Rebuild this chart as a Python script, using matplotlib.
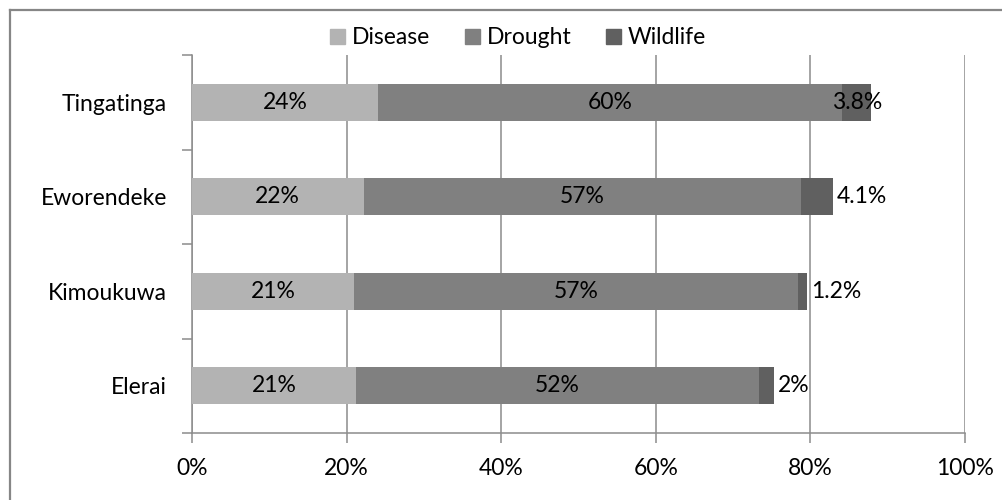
#!/usr/bin/env python3
"""Stacked horizontal bars: cause of livestock loss by village."""

import matplotlib
matplotlib.use('Agg')
import matplotlib.pyplot as plt
from matplotlib.lines import Line2D
import matplotlib.patches as mpatches

villages = ['Elerai', 'Kimoukuwa', 'Eworendeke', 'Tingatinga']
disease = [21.2, 21.0, 22.2, 24.1]
drought = [52.1, 57.4, 56.6, 60.0]
wildlife = [2.0, 1.2, 4.1, 3.8]

disease_lbl = ['21%', '21%', '22%', '24%']
drought_lbl = ['52%', '57%', '57%', '60%']
wildlife_lbl = ['2%', '1.2%', '4.1%', '3.8%']

COLORS = {'Disease': '#b3b3b3', 'Drought': '#808080', 'Wildlife': '#606060'}
GRID = '#8c8c8c'

plt.rcParams['font.family'] = ['Lato', 'DejaVu Sans']
FS = 16.5

fig = plt.figure(figsize=(10.02, 5.0), dpi=100)
ax = fig.add_axes([192 / 1002, 67 / 500, 773 / 1002, 378 / 500])

y = range(len(villages))
h = 0.39
ax.barh(y, disease, h, color=COLORS['Disease'], zorder=3)
ax.barh(y, drought, h, left=disease, color=COLORS['Drought'], zorder=3)
left_w = [a + b for a, b in zip(disease, drought)]
ax.barh(y, wildlife, h, left=left_w, color=COLORS['Wildlife'], zorder=3)

for i in y:
    ax.text(disease[i] / 2, i, disease_lbl[i], ha='center', va='center',
            fontsize=FS, zorder=4)
    ax.text(disease[i] + drought[i] / 2, i, drought_lbl[i], ha='center',
            va='center', fontsize=FS, zorder=4)
    end = left_w[i] + wildlife[i]
    if i == 3:
        # Excel put this one centred on the segment
        ax.text(left_w[i] + wildlife[i] / 2, i, wildlife_lbl[i], ha='center',
                va='center', fontsize=FS, zorder=4)
    else:
        ax.annotate(wildlife_lbl[i], (end, i), xytext=(3, 0),
                    textcoords='offset points', ha='left', va='center',
                    fontsize=FS, zorder=4)

ax.set_xlim(0, 100)
ax.set_ylim(-0.5, 3.5)
ax.set_xticks(range(0, 101, 20))
ax.set_xticklabels([f'{v}%' for v in range(0, 101, 20)], fontsize=FS)
ax.set_yticks([i - 0.5 for i in range(5)])
ax.set_yticklabels([])
ax.set_yticks(list(y), minor=True)
ax.set_yticklabels(villages, minor=True, fontsize=FS)
ax.tick_params(axis='y', which='minor', length=0, pad=18)
ax.tick_params(axis='y', which='major', length=7, width=1.1, color=GRID)
ax.tick_params(axis='x', length=7, width=1.1, color=GRID, pad=11)

ax.grid(axis='x', color=GRID, linewidth=1.1, zorder=0)
for s in ['top', 'right']:
    ax.spines[s].set_visible(False)
for s in ['left', 'bottom']:
    ax.spines[s].set_color(GRID)
    ax.spines[s].set_linewidth(1.1)

handles = [mpatches.Patch(color=c, label=k) for k, c in COLORS.items()]
fig.legend(handles=handles, loc='center', bbox_to_anchor=(518 / 1002, 1 - 38 / 500),
           ncol=3, frameon=False, fontsize=FS, handlelength=0.65, handleheight=0.65,
           handletextpad=0.3, columnspacing=1.5)

# chart area border (right/bottom run off the image)
fig.add_artist(Line2D([9.5 / 1002, 9.5 / 1002], [0, 1 - 10 / 500],
                      transform=fig.transFigure, color='#868686', linewidth=1.6))
fig.add_artist(Line2D([9.5 / 1002, 1], [1 - 10 / 500, 1 - 10 / 500],
                      transform=fig.transFigure, color='#868686', linewidth=1.6))

fig.savefig('out.png', dpi=100)
print('Saved to out.png')
